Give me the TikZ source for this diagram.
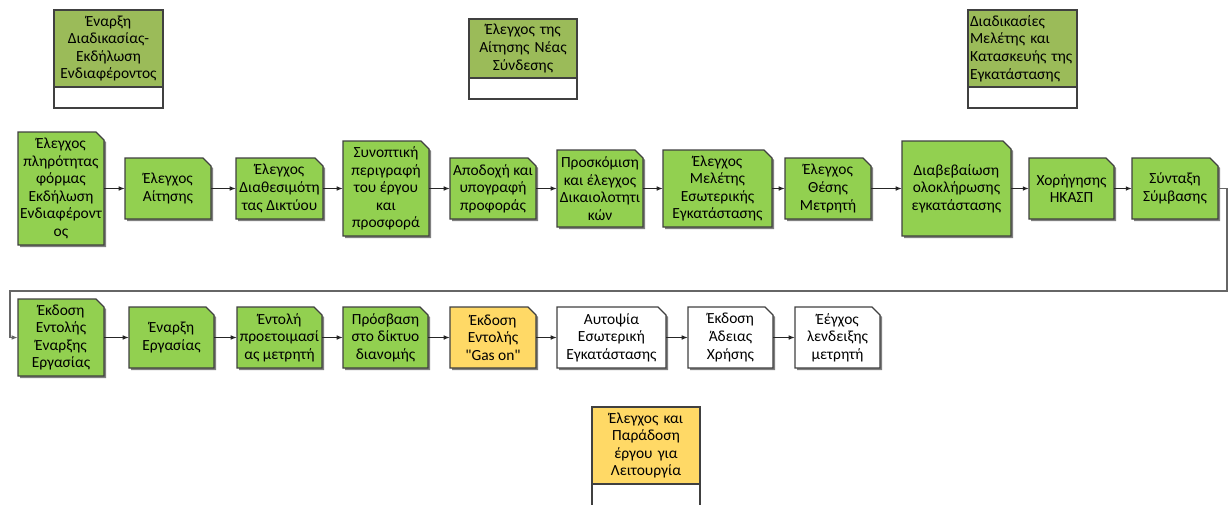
\documentclass[tikz,border=0pt]{standalone}
\usepackage{fontspec}
\setmainfont{Carlito}[Ligatures=TeXOff]
\usetikzlibrary{arrows.meta}

\definecolor{stepgreen}{HTML}{92D050}
\definecolor{headgreen}{HTML}{9BBB59}
\definecolor{stepyellow}{HTML}{FFD966}
\definecolor{edgegray}{HTML}{404040}
\definecolor{shadegray}{HTML}{808080}
\definecolor{linegray}{HTML}{262626}

\tikzset{
  boxline/.style={draw=edgegray, line width=0.9pt},
  boxshade/.style={fill=shadegray},
  boxtext/.style={inner sep=0pt, align=center, font=\fontsize{11.6}{13.2}\selectfont},
  conn/.style={draw=linegray, line width=0.75pt, -{Latex[length=4.5pt,width=3.5pt]}},
  loopline/.style={draw=shadegray!80!black, line width=1.1pt, -{Latex[length=4.5pt,width=3.5pt]}},
}

% process step with a snipped top-right corner: name, x1, y1, x2, y2, fill, text
\newcommand\stepbox[7]{%
  \fill[boxshade] (#2+2,#3+2) -- (#4-6,#3+2) -- (#4+2,#3+10) -- (#4+2,#5+2) -- (#2+2,#5+2) -- cycle;
  \draw[boxline, fill=#6] (#2,#3) -- (#4-8,#3) -- (#4,#3+8) -- (#4,#5) -- (#2,#5) -- cycle;
  \node[boxtext, minimum width={(#4-#2)*0.75pt}, minimum height={(#5-#3)*0.75pt}]
    (#1) at ({(#2+#4)/2},{(#3+#5)/2}) {#7};
}

% phase header: name, x1, y1, x2, y-split, y2, fill, text, alignment
\newcommand\phasebox[9]{%
  \draw[boxline, fill=#7] (#2,#3) rectangle (#4,#5);
  \draw[boxline, fill=white] (#2,#5) rectangle (#4,#6);
  \node[boxtext, align=#9, text width={(#4-#2-4)*0.75pt}]
    (#1) at ({(#2+#4)/2},{(#3+#5)/2}) {#8};
}

\begin{document}
\begin{tikzpicture}[x=0.75pt,y=-0.75pt]
\useasboundingbox (0,0) rectangle (1230,504);

% phase headers
\phasebox{ph1}{54}{10}{163}{87}{108}{headgreen}{Έναρξη\\Διαδικασίας-\\Εκδήλωση\\Ενδιαφέροντος}{center}
\phasebox{ph2}{469}{19}{577}{78}{99}{headgreen}{Έλεγχος της\\Αίτησης Νέας\\Σύνδεσης}{center}
\phasebox{ph3}{968}{10}{1077}{87}{108}{headgreen}{Διαδικασίες\\Μελέτης και\\Κατασκευής της\\Εγκατάστασης}{left}
\begin{scope}
\clip (0,0) rectangle (1230,504);
\phasebox{ph4}{592}{407}{700}{484}{520}{stepyellow}{Έλεγχος και\\Παράδοση\\έργου για\\Λειτουργία}{center}
\end{scope}

% first row of steps
\stepbox{s1}{18}{132}{104}{245}{stepgreen}{Έλεγχος\\πληρότητας\\φόρμας\\Εκδήλωση\\Ενδιαφέροντ\\ος}
\stepbox{s2}{125}{158}{211}{219}{stepgreen}{Έλεγχος\\Αίτησης}
\stepbox{s3}{236}{158}{323}{219}{stepgreen}{Έλεγχος\\Διαθεσιμότη\\τας Δικτύου}
\stepbox{s4}{343}{141}{429}{236}{stepgreen}{Συνοπτική\\περιγραφή\\του έργου\\και\\προσφορά}
\stepbox{s5}{450}{158}{536}{219}{stepgreen}{Αποδοχή και\\υπογραφή\\προφοράς}
\stepbox{s6}{557}{150}{643}{227}{stepgreen}{Προσκόμιση\\και έλεγχος\\Δικαιολοτητι\\κών}
\stepbox{s7}{663}{150}{772}{227}{stepgreen}{Έλεγχος\\Μελέτης\\Εσωτερικής\\Εγκατάστασης}
\stepbox{s8}{785}{158}{871}{219}{stepgreen}{Έλεγχος\\Θέσης\\Μετρητή}
\stepbox{s9}{902}{141}{1011}{236}{stepgreen}{Διαβεβαίωση\\ολοκλήρωσης\\εγκατάστασης}
\stepbox{s10}{1029}{158}{1114}{219}{stepgreen}{Χορήγησης\\ΗΚΑΣΠ}
\stepbox{s11}{1132}{158}{1218}{219}{stepgreen}{Σύνταξη\\Σύμβασης}

% second row of steps
\stepbox{s12}{18}{299}{104}{376}{stepgreen}{Έκδοση\\Εντολής\\Έναρξης\\Εργασίας}
\stepbox{s13}{129}{307}{214}{368}{stepgreen}{Έναρξη\\Εργασίας}
\stepbox{s14}{237}{307}{322}{368}{stepgreen}{Έντολή\\προετοιμασί\\ας μετρητή}
\stepbox{s15}{343}{307}{428}{368}{stepgreen}{Πρόσβαση\\στο δίκτυο\\διανομής}
\stepbox{s16}{450}{307}{536}{368}{stepyellow}{Έκδοση\\Εντολής\\"Gas on"}
\stepbox{s17}{557}{307}{666}{368}{white}{Αυτοψία\\Εσωτερική\\Εγκατάστασης}
\stepbox{s18}{688}{307}{773}{368}{white}{Έκδοση\\Άδειας\\Χρήσης}
\stepbox{s19}{795}{307}{880}{368}{white}{Έέγχος\\λενδειξης\\μετρητή}

% connectors
\foreach \a/\b in {s1/s2,s2/s3,s3/s4,s4/s5,s5/s6,s6/s7,s7/s8,s8/s9,s9/s10,s10/s11,
                   s12/s13,s13/s14,s14/s15,s15/s16,s16/s17,s17/s18,s18/s19}
  \draw[conn] (\a.east) -- (\b.west);

\coordinate (turnR) at (1227,291);
\coordinate (turnL) at (10,291);
\draw[loopline] (s11.east) -| (turnR) -- (turnL) |- (s12.west);
\end{tikzpicture}
\end{document}
